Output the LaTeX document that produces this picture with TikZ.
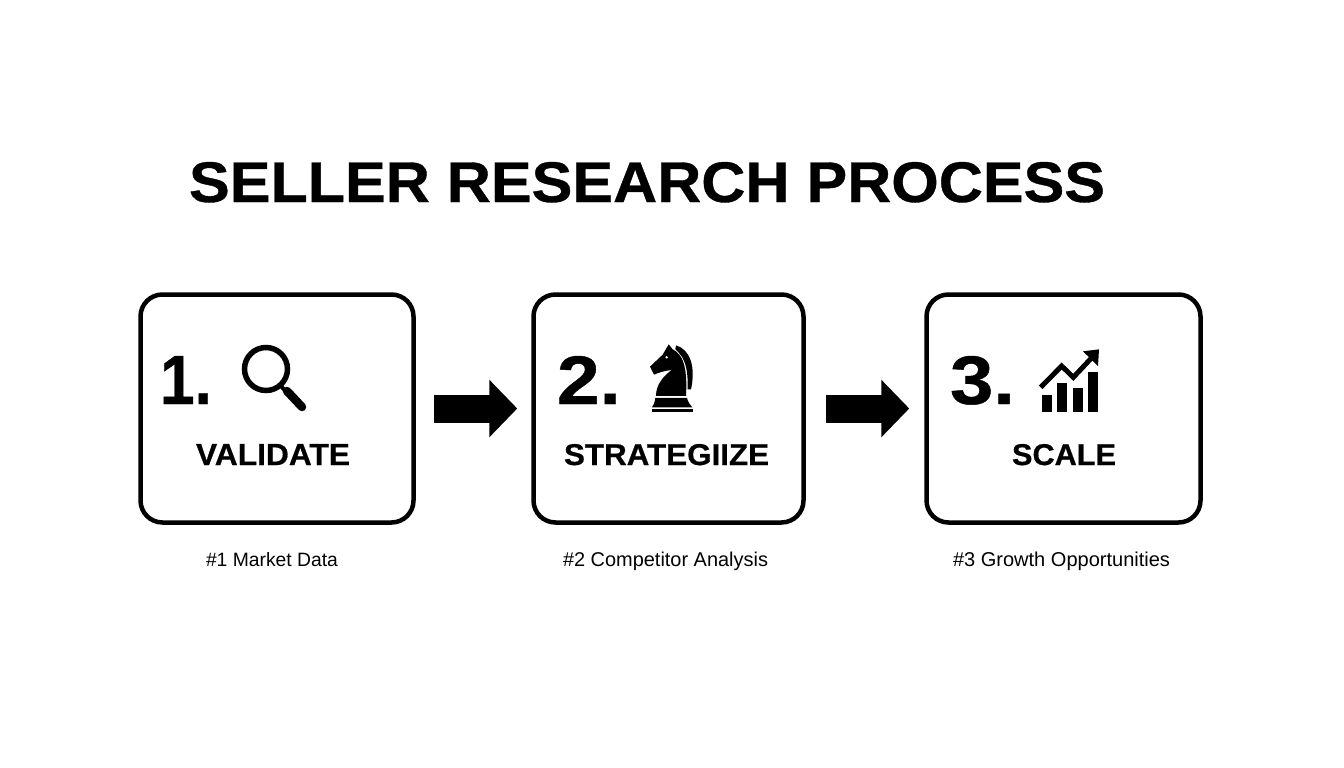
\documentclass[tikz,border=0pt]{standalone}
\usepackage{fontspec}
\usepackage{graphicx}
\setmainfont{Liberation Sans}
\newfontfamily\heavy[FakeBold=0.6]{Liberation Sans Bold}
\usetikzlibrary{arrows.meta}
\tikzset{
  stage/.style={draw=black,line width=4.5pt,rounded corners=22pt,minimum width=273pt,minimum height=228pt,inner sep=0pt,fill=white},
  txt/.style={anchor=base west,inner sep=0pt,outer sep=0pt,text=black},
  blockarrow/.style={line width=28pt,black,-{Triangle[length=28pt,width=56pt]}},
}
\newcommand{\fitb}[3]{\resizebox{#1pt}{#2pt}{\heavy #3}}
\newcommand{\fitr}[2]{\resizebox{#1pt}{!}{#2}}
\begin{document}
\begin{tikzpicture}[x=1pt,y=-1pt]
\useasboundingbox[fill=white] (0,0) rectangle (1344,768);
\node[txt] (title) at (189,202) {\fitb{916}{40}{SELLER RESEARCH PROCESS}};

\node[stage] (box1) at (277,408.5) {};
\node[stage,minimum width=270pt] (box2) at (668.5,408.5) {};
\node[stage,minimum width=274pt] (box3) at (1063.5,408.5) {};

\draw[blockarrow,shorten <=18pt,shorten >=14pt] (box1.east) -- (box2.west);
\draw[blockarrow,shorten <=20pt,shorten >=15pt] (box2.east) -- (box3.west);

\node[txt] (n1) at (160,404) {\fitb{52}{48}{1.}};
\node[txt] (n2) at (557,404) {\fitb{64}{48}{2.}};
\node[txt] (n3) at (950,404) {\fitb{65}{48}{3.}};

\node[txt] (l1) at (196,465) {\fitb{154}{21}{VALIDATE}};
\node[txt] (l2) at (564,465) {\fitb{205}{21}{STRATEGIIZE}};
\node[txt] (l3) at (1012,465) {\fitb{104}{21}{SCALE}};

\node[txt] (c1) at (206,566) {\fitr{132}{\#1 Market Data}};
\node[txt] (c2) at (563,566) {\fitr{205}{\#2 Competitor Analysis}};
\node[txt] (c3) at (953,566) {\fitr{217}{\#3 Growth Opportunities}};

% magnifier
\draw[line width=5.5pt,black] (266,369) circle (21.5);
\draw[line width=4pt,black] (281,386) -- (289,395);
\draw[line width=8.5pt,black,line cap=round] (287,391) -- (302,407);

% knight
\begin{scope}[shift={(630,330)},x=0.3333pt,y=-0.3333pt]
\fill[black] (60,110) -- (98,74) -- (116,43) -- (128,58)
  .. controls (158,72) and (173,110) .. (168,198) -- (78,198)
  .. controls (78,165) and (98,140) .. (125,120)
  .. controls (105,122) and (85,128) .. (72,134) -- cycle;
\fill[black] (138,46) .. controls (180,58) and (198,110) .. (183,178) -- (173,178)
  .. controls (174,120) and (168,85) .. (136,58) -- cycle;
\fill[black] (76,204) -- (171,204) .. controls (174,216) and (180,225) .. (187,232) -- (66,232) .. controls (72,225) and (74,216) .. (76,204) -- cycle;
\fill[black] (65,237) rectangle (188,247);
\fill[white] (110,82) circle (4);
\end{scope}

% chart
\begin{scope}[shift={(1030,340)},x=0.3333pt,y=-0.3333pt]
\fill[black] (35,165) rectangle (65,215);
\fill[black] (82,130) rectangle (112,215);
\fill[black] (128,145) rectangle (158,215);
\fill[black] (174,97) rectangle (203,215);
\draw[black,line width=5pt,line join=miter] (32,142) -- (95,78) -- (130,112) -- (190,48);
\fill[black] (159,34) -- (207,28) -- (204,78) -- cycle;
\end{scope}
\end{tikzpicture}
\end{document}
